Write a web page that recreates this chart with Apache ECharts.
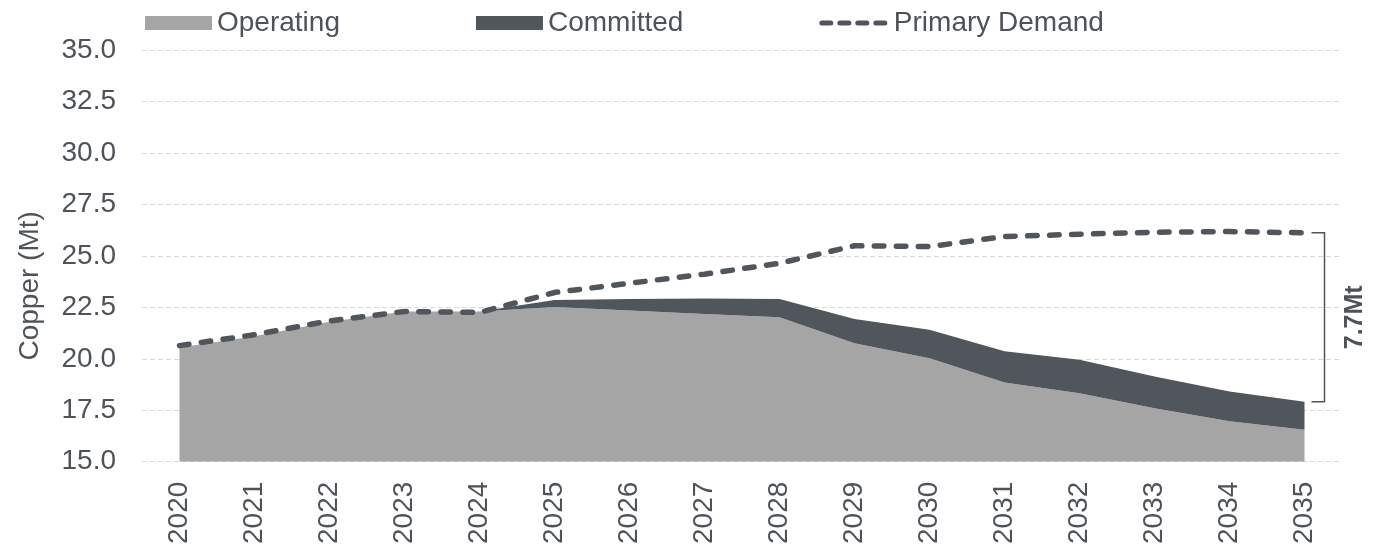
<!DOCTYPE html>
<html>
<head>
<meta charset="utf-8">
<script src="https://cdn.jsdelivr.net/npm/echarts@6/dist/echarts.min.js"></script>
<style>
  html, body { margin: 0; padding: 0; background: #fff; }
  #main { width: 1380px; height: 547px; }
</style>
</head>
<body>
<div id="main"></div>
<script>
// years on the x axis
var years = ['2020', '2021', '2022', '2023', '2024', '2025', '2026', '2027',
             '2028', '2029', '2030', '2031', '2032', '2033', '2034', '2035'];
// operating mine supply (Mt)
var operating = [20.55, 21.1, 21.8, 22.3, 22.3, 22.51, 22.35, 22.17,
                 22.02, 20.76, 20.03, 18.85, 18.33, 17.6, 16.96, 16.55];
// committed projects (Mt), stacked on operating
var committed = [0, 0, 0, 0, 0, 0.35, 0.56, 0.76,
                 0.89, 1.17, 1.38, 1.51, 1.62, 1.54, 1.45, 1.36];
// primary demand (Mt)
var demand = [20.64, 21.17, 21.84, 22.3, 22.25, 23.22, 23.67, 24.11,
              24.64, 25.49, 25.45, 25.94, 26.05, 26.15, 26.18, 26.12];
var gapLabel = '7.7Mt';

var textColor = '#4d5359';
var font = 'Liberation Sans, Arial, sans-serif';

var myChart = echarts.init(document.getElementById('main'));

var option = {
    animation: false,
    textStyle: { fontFamily: font },
    legend: {
        left: 140,
        top: 4,
        itemGap: 136,
        itemWidth: 67,
        itemHeight: 14,
        textStyle: { fontSize: 28, color: textColor, fontFamily: font },
        data: [
            { name: 'Operating', icon: 'rect' },
            { name: 'Committed', icon: 'rect' },
            {
                name: 'Primary Demand',
                itemStyle: { opacity: 0 },
                lineStyle: { width: 5, type: [9, 9], cap: 'round' }
            }
        ]
    },
    grid: { left: 142, right: 38, top: 50, bottom: 85, containLabel: false },
    xAxis: {
        type: 'category',
        data: years,
        boundaryGap: true,
        axisLine: { show: false },
        axisTick: { show: false },
        axisLabel: { rotate: 90, margin: 20, fontSize: 28, color: textColor, fontFamily: font }
    },
    yAxis: {
        type: 'value',
        min: 15,
        max: 35,
        interval: 2.5,
        name: 'Copper (Mt)',
        nameLocation: 'middle',
        nameGap: 98,
        nameTextStyle: { fontSize: 28, color: textColor, fontFamily: font, padding: [0, 60, 0, 0] },
        axisLine: { show: false },
        axisTick: { show: false },
        axisLabel: {
            margin: 26, fontSize: 28, color: textColor, fontFamily: font,
            formatter: function (v) { return v.toFixed(1); }
        },
        splitLine: { lineStyle: { color: '#d9d9d9', type: [5, 3], width: 1 } }
    },
    series: [
        {
            name: 'Operating',
            type: 'line',
            stack: 'supply',
            data: operating,
            symbol: 'none',
            itemStyle: { color: '#a5a5a5' },
            lineStyle: { width: 0 },
            areaStyle: { color: '#a5a5a5', opacity: 1 }
        },
        {
            name: 'Committed',
            type: 'line',
            stack: 'supply',
            data: committed,
            symbol: 'none',
            itemStyle: { color: '#50565c' },
            lineStyle: { width: 0 },
            areaStyle: { color: '#50565c', opacity: 1 }
        },
        {
            name: 'Primary Demand',
            type: 'line',
            data: demand,
            symbol: 'none',
            z: 5,
            itemStyle: { color: '#50565c' },
            lineStyle: { color: '#50565c', width: 5.5, type: [9.5, 12.5], cap: 'round' }
        }
    ]
};

myChart.setOption(option);

// bracket showing the gap in 2035
function drawBracket() {
    var last = years.length - 1;
    var top = myChart.convertToPixel({ gridIndex: 0 }, [years[last], demand[last]]);
    var bot = myChart.convertToPixel({ gridIndex: 0 }, [years[last], operating[last] + committed[last]]);
    var x0 = top[0] + 7, x1 = top[0] + 20;
    myChart.setOption({
        graphic: [
            {
                type: 'polyline',
                shape: { points: [[x0, top[1]], [x1, top[1]], [x1, bot[1]], [x0, bot[1]]] },
                style: { stroke: '#50565c', lineWidth: 1.5, fill: null }
            },
            {
                type: 'text',
                x: x1 + 31,
                y: (top[1] + bot[1]) / 2,
                rotation: Math.PI / 2,
                style: {
                    text: gapLabel, fill: textColor, font: 'bold 25px ' + font,
                    align: 'center', verticalAlign: 'middle'
                }
            }
        ]
    });
}
drawBracket();

window.addEventListener('resize', function () {
    myChart.resize();
    drawBracket();
});
</script>
</body>
</html>
